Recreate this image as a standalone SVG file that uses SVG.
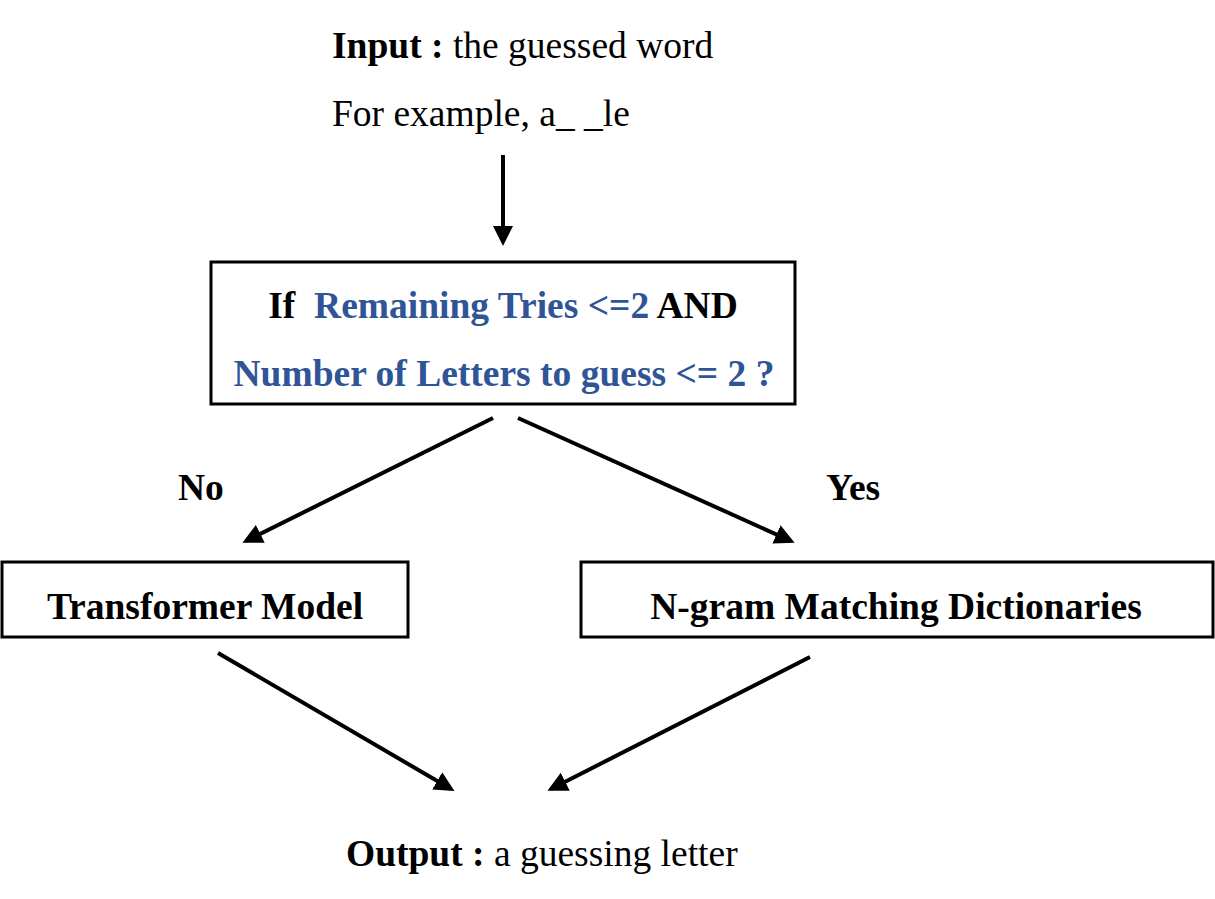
<svg xmlns="http://www.w3.org/2000/svg" width="1215" height="899" viewBox="0 0 1215 899">
<style>
text{font-family:"Liberation Serif","Times New Roman",serif;fill:#000;font-size:37.5px}
.b{font-weight:bold}
.blue{fill:#2F5597}
.box{fill:#fff;stroke:#000;stroke-width:3}
.conn{stroke:#000;stroke-width:4;fill:none;marker-end:url(#ah)}
</style>
<defs>
<marker id="ah" markerWidth="5" markerHeight="5" refX="4" refY="2.5" orient="auto" markerUnits="strokeWidth">
<path d="M0,0 L5,2.5 L0,5 Z" fill="#000"/>
</marker>
</defs>
<rect width="1215" height="899" fill="#fff"/>
<g id="input">
<text x="332" y="58"><tspan class="b">Input :</tspan> the guessed word</text>
<text x="332" y="126">For example, a_ _le</text>
</g>
<g id="condition">
<rect class="box" x="211" y="262" width="584" height="142"/>
<text class="b" x="503" y="318" text-anchor="middle">If&#160; <tspan class="blue">Remaining Tries &lt;=2</tspan> AND</text>
<text class="b blue" x="504" y="386" text-anchor="middle">Number of Letters to guess &lt;= 2 ?</text>
</g>
<g id="transformer">
<rect class="box" x="2" y="562" width="406" height="75"/>
<text class="b" x="205" y="619" text-anchor="middle">Transformer Model</text>
</g>
<g id="ngram">
<rect class="box" x="581" y="562" width="632" height="75"/>
<text class="b" x="896" y="619" text-anchor="middle">N-gram Matching Dictionaries</text>
</g>
<g id="output">
<text x="346" y="866"><tspan class="b">Output :</tspan> a guessing letter</text>
</g>
<g id="connectors">
<line class="conn" x1="503" y1="155" x2="503" y2="242"/>
<line class="conn" x1="493" y1="418" x2="246" y2="541"/>
<line class="conn" x1="518" y1="418" x2="791" y2="541"/>
<line class="conn" x1="218" y1="653" x2="451" y2="789"/>
<line class="conn" x1="810" y1="657" x2="551" y2="789"/>
<text class="b" x="178" y="500">No</text>
<text class="b" x="826" y="500">Yes</text>
</g>
</svg>
